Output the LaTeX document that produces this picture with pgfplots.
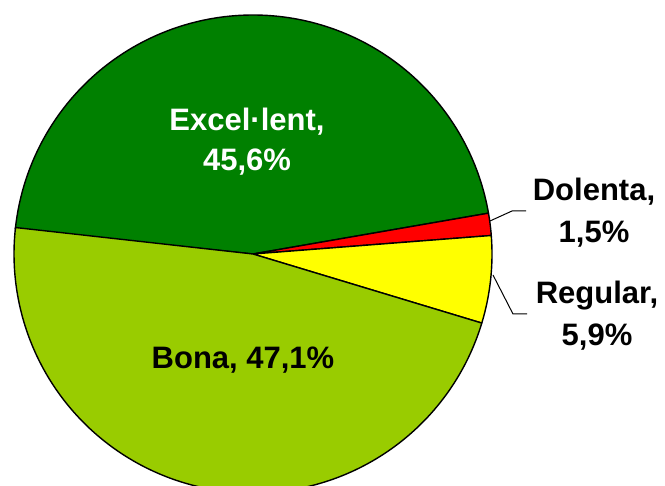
\documentclass[border=0pt]{standalone}
\usepackage{fontspec}
\setmainfont{Liberation Sans}
\usepackage{pgfplots}
\usepackage{pgfplotstable}
\pgfplotsset{compat=1.18}
\definecolor{exc}{HTML}{008000}
\definecolor{dol}{HTML}{FF0000}
\definecolor{reg}{HTML}{FFFF00}
\definecolor{bon}{HTML}{99CC00}
\pgfplotstableread{
label value color
Excel 45.6 exc
Dolenta 1.5 dol
Regular 5.9 reg
Bona 47.1 bon
}\piedata
\begin{document}
\begin{tikzpicture}
\useasboundingbox (0,0) rectangle (665pt,486pt);
\begin{axis}[width=665pt,height=486pt,scale only axis,anchor=south west,at={(0,0)},
  xmin=0,xmax=665,ymin=0,ymax=486,hide axis,clip=true]
\pgfmathsetmacro\startang{174.0}
\pgfplotsforeachungrouped \i in {0,...,3}{%
  \pgfplotstablegetelem{\i}{value}\of\piedata \let\v\pgfplotsretval
  \pgfplotstablegetelem{\i}{color}\of\piedata \let\c\pgfplotsretval
  \pgfmathsetmacro\endang{\startang-3.6*\v}%
  \edef\temp{\noexpand\addplot[draw=black, line width=1.4pt, line join=round, fill=\c, domain=\endang:\startang, samples=150] ({253+239*cos(x)},{232+239*sin(x)}) -- (axis cs:253,232) -- cycle;}%
  \temp
  \global\let\startang\endang
}
\addplot[black, line width=1pt] coordinates {(490,265) (512,275) (526,275)};
\addplot[black, line width=1pt] coordinates {(493,211) (513,172) (527,172)};
\node[font=\fontsize{31}{40}\selectfont\bfseries, align=center, text=white] at (axis cs:247,344) {Excel·lent,\\45,6\%};
\node[font=\fontsize{31}{40}\selectfont\bfseries, align=center] at (axis cs:243,126) {Bona, 47,1\%};
\node[font=\fontsize{31}{42}\selectfont\bfseries, align=center] at (axis cs:594,273) {Dolenta,\\1,5\%};
\node[font=\fontsize{31}{42}\selectfont\bfseries, align=center] at (axis cs:597,170) {Regular,\\5,9\%};
\end{axis}
\end{tikzpicture}
\end{document}
